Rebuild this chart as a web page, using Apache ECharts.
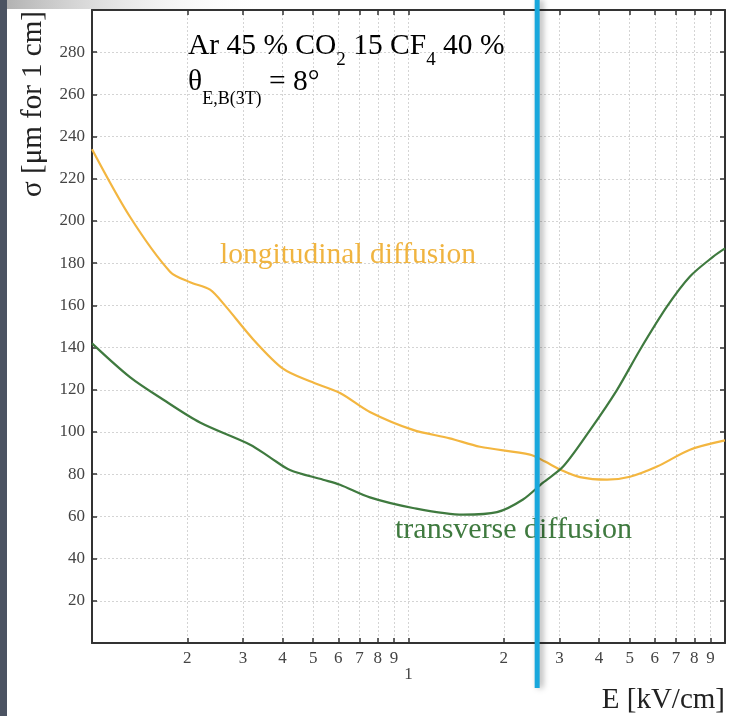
<!DOCTYPE html>
<html><head><meta charset="utf-8">
<script src="https://cdn.jsdelivr.net/npm/echarts@6/dist/echarts.min.js"></script>
<style>html,body{margin:0;padding:0;background:#fff}#c{width:729px;height:716px}</style>
</head><body><div id="c"></div>
<script>
// E [kV/cm]
const longE   = [0.100,0.1318,0.1764,0.204,0.236,0.263,0.3227,0.4013,0.4885,0.6075,0.755,1.033,1.35,1.682,2.42,2.70,3.01,3.48,4.24,5.01,6.10,7.75,10.0];
const longSig = [234,202,176,171,167.5,160,144,130,124,118.5,109.5,101,97,93,89.3,86,82.2,78.6,77.4,78.8,83.6,91.6,96];
const transE   = [0.100,0.1318,0.1676,0.2194,0.316,0.365,0.422,0.537,0.6075,0.755,1.033,1.487,1.904,2.30,2.66,3.08,3.75,4.56,5.39,6.56,7.75,9.16,10.0];
const transSig = [142,126,115.4,104.5,94,88,82,77.4,75,69,64,60.8,62,68,76,83.6,101,120,139,159.5,173.7,183,187];
const xTickValues = [0.2,0.3,0.4,0.5,0.6,0.7,0.8,0.9,1,2,3,4,5,6,7,8,9];
const markerE = 2.55;
const FONT = 'Liberation Serif';

const chart = echarts.init(document.getElementById('c'), null, {renderer:'canvas'});
const zip = (a,b) => a.map((v,i)=>[v,b[i]]);
const frame = {color:'#333', width:2};
const tick = {color:'#333', width:1.5};
const grid = {type:[2,2], color:'#d4d4d4', width:1};
const xLabelFmt = v => {
  if (Math.abs(v-1) < 1e-9) return '{lo|1}';
  return v < 1 ? String(Math.round(v*10)) : String(Math.round(v));
};
chart.setOption({
  animation:false,
  backgroundColor:'#fff',
  grid:{left:92, right:4, top:10, bottom:73, containLabel:false},
  xAxis:[{
    type:'log', logBase:10, min:0.1, max:10, position:'bottom',
    axisLine:{show:true, onZero:false, lineStyle:frame},
    axisTick:{show:true, inside:true, length:5, customValues:xTickValues, lineStyle:tick},
    axisLabel:{show:true, customValues:xTickValues, formatter:xLabelFmt, margin:7,
      fontFamily:FONT, fontSize:17, color:'#444',
      rich:{lo:{fontFamily:FONT, fontSize:17, color:'#444', padding:[16,0,0,0]}}},
    splitLine:{show:true, lineStyle:grid}
  },{
    type:'log', logBase:10, min:0.1, max:10, position:'top',
    axisLine:{show:true, onZero:false, lineStyle:frame},
    axisTick:{show:true, inside:true, length:5, customValues:xTickValues, lineStyle:tick},
    axisLabel:{show:false}, splitLine:{show:false}
  }],
  yAxis:[{
    type:'value', min:0, max:300, interval:20, position:'left',
    axisLine:{show:true, onZero:false, lineStyle:frame},
    axisTick:{show:true, inside:true, length:5, lineStyle:tick},
    axisLabel:{show:true, showMinLabel:false, showMaxLabel:false, margin:7,
      fontFamily:FONT, fontSize:17, color:'#444'},
    splitLine:{show:true, lineStyle:grid}
  },{
    type:'value', min:0, max:300, interval:20, position:'right',
    axisLine:{show:true, onZero:false, lineStyle:frame},
    axisTick:{show:true, inside:true, length:5, lineStyle:tick},
    axisLabel:{show:false}, splitLine:{show:false}
  }],
  series:[{
    name:'longitudinal diffusion', type:'line', data:zip(longE,longSig),
    smooth:0.3, showSymbol:false, lineStyle:{color:'#f3b640', width:2.2}, itemStyle:{color:'#f3b640'}, z:3
  },{
    name:'transverse diffusion', type:'line', data:zip(transE,transSig),
    smooth:0.3, showSymbol:false, lineStyle:{color:'#3f7a3f', width:2.2}, itemStyle:{color:'#3f7a3f'}, z:3
  }]
});

const mx = chart.convertToPixel({xAxisIndex:0}, markerE);
const m1 = {fontFamily:FONT, fontSize:29.5, color:'#222', lineHeight:46, verticalAlign:'middle'};
const s1 = {fontFamily:FONT, fontSize:19, color:'#222', lineHeight:16, verticalAlign:'bottom'};
const m2 = {fontFamily:FONT, fontSize:29.5, color:'#222', lineHeight:52, verticalAlign:'middle'};
const s2 = {fontFamily:FONT, fontSize:18, color:'#222', lineHeight:16, verticalAlign:'bottom'};
chart.setOption({
  graphic:[
    {type:'rect', left:0, top:0, shape:{width:7, height:716}, style:{fill:'#4b5362'}, z:100},
    {type:'rect', left:7, top:0, shape:{width:260, height:9},
      style:{fill:new echarts.graphic.LinearGradient(0,0,1,0,[{offset:0,color:'rgba(170,170,170,0.9)'},{offset:1,color:'rgba(255,255,255,0)'}])}, z:100},
    {type:'text', x:188, y:23.5, z:50, style:{
      text:'{m|Ar 45 % CO}{s|2}{m| 15 CF}{s|4}{m| 40 %}', rich:{m:m1, s:s1}}},
    {type:'text', x:188, y:56, z:50, style:{
      text:'{m|θ}{s|E,B(3T)}{m| = 8°}', rich:{m:m2, s:s2}}},
    {type:'text', x:220, y:255, z:50, style:{text:'longitudinal diffusion', fontFamily:FONT, fontSize:29.5, fill:'#f0b440', verticalAlign:'middle'}},
    {type:'text', x:395, y:530, z:50, style:{text:'transverse diffusion', fontFamily:FONT, fontSize:30, fill:'#3f7a3f', verticalAlign:'middle'}},
    {type:'text', x:33, y:104, rotation:Math.PI/2, z:50, style:{text:'σ [μm for 1 cm]', fontFamily:FONT, fontSize:29, fill:'#222', align:'center', verticalAlign:'middle'}},
    {type:'text', x:725, y:700, z:50, style:{text:'E [kV/cm]', fontFamily:FONT, fontSize:29, fill:'#222', align:'right', verticalAlign:'middle'}},
    {type:'line', z:200, shape:{x1:mx, y1:0, x2:mx, y2:688},
      style:{stroke:'#18a7dc', lineWidth:5, shadowBlur:6, shadowOffsetX:3, shadowColor:'rgba(0,0,0,0.35)'}}
  ]
});
</script></body></html>
